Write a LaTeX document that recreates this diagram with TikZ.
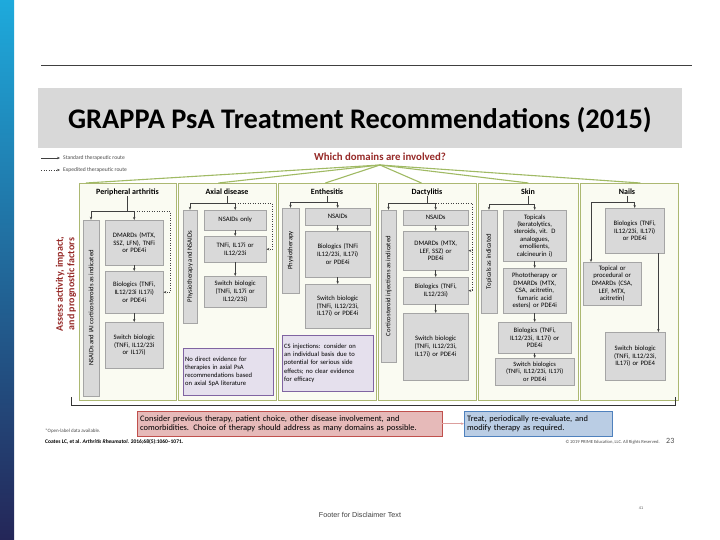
\documentclass[tikz,border=0pt]{standalone}
\usepackage{fontspec}
\setmainfont{Carlito}
\newfontfamily\footfont{Liberation Sans}
\usetikzlibrary{arrows.meta}
\definecolor{ColFill}{RGB}{250,251,242}
\definecolor{ColLine}{RGB}{172,184,114}
\definecolor{BoxGray}{RGB}{217,217,217}
\definecolor{BoxLine}{RGB}{165,165,165}
\definecolor{LilacFill}{RGB}{229,224,237}
\definecolor{LilacLine}{RGB}{128,100,162}
\definecolor{FanGreen}{RGB}{160,186,100}
\definecolor{DarkRed}{RGB}{150,42,40}
\definecolor{PinkFill}{RGB}{230,186,185}
\definecolor{PinkLine}{RGB}{192,80,77}
\definecolor{SkyFill}{RGB}{186,205,228}
\definecolor{SkyLine}{RGB}{79,129,189}
\definecolor{BarTop}{RGB}{30,170,220}
\definecolor{BarMid}{RGB}{22,95,165}
\definecolor{BarBot}{RGB}{36,38,88}
\definecolor{BandGray}{RGB}{216,216,216}
\tikzset{
  col/.style={draw=ColLine,fill=ColFill,line width=0.8pt,anchor=north west,inner sep=0pt},
  hdr/.style={font=\fontsize{8}{9}\selectfont\bfseries,inner sep=0.5pt},
  gb/.style={draw=BoxLine,fill=BoxGray,anchor=north west,align=center,inner sep=1pt,
    font=\fontsize{6.7}{7.7}\selectfont},
  vb/.style={draw=BoxLine,fill=BoxGray,rotate=90,inner sep=1pt,font=\fontsize{6.7}{7.7}\selectfont},
  note/.style={draw=LilacLine,fill=LilacFill,anchor=north west,align=left,inner sep=2pt,
    font=\fontsize{6.6}{8.2}\selectfont},
  arr/.style={-{Stealth[length=3pt,width=2.4pt]},draw=black!75,line width=0.5pt},
  dotarr/.style={arr,dotted},
  fan/.style={draw=FanGreen,line width=1.1pt},
  legend/.style={anchor=west,inner sep=0pt,text=black!70,font=\fontsize{5.6}{6.5}\selectfont},
  side/.style={rotate=90,align=center,text=DarkRed,font=\fontsize{10}{11.4}\selectfont\bfseries},
}

\begin{document}
\begin{tikzpicture}[x=1pt,y=-1pt]
  \useasboundingbox (0,0) rectangle (720,540);
  \fill[white] (0,0) rectangle (720,540);

  % Slide frame and title band.
  \shade[top color=BarTop,middle color=BarMid,bottom color=BarBot] (0,0) rectangle (14,540);
  \draw[black!75,line width=0.9pt] (41,65) -- (692,65);
  \fill[BandGray] (38,88) rectangle (682,148);
  \node[font=\fontsize{28.4}{32}\selectfont\bfseries] (ttl) at (360,120)
    {GRAPPA PsA Treatment Recommendations (2015)};

  % Legend for the two routes.
  \node[legend] (lg1) at (63,158) {Standard therapeutic route};
  \node[legend] (lg2) at (63,170) {Expedited therapeutic route};
  \coordinate (lg1a) at (41,158);
  \coordinate (lg2a) at (41,170);
  \draw[arr] (lg1a) -- ([xshift=-3pt]lg1.west);
  \draw[dotarr] (lg2a) -- ([xshift=-3pt]lg2.west);

  \node[font=\fontsize{10.8}{12}\selectfont\bfseries,text=DarkRed] (wd) at (380,157)
    {Which domains are involved?};
  \coordinate (fan) at (380,165);

  \node[side] (side) at (66,284) {Assess activity, impact,\\and prognostic factors};

  % Peripheral arthritis.
  \node[col,minimum width=97pt,minimum height=217pt] (pa) at (79,183) {};
  \node[hdr] (pa-t) at (127.5,192) {Peripheral arthritis};
  \node[vb,minimum width=176pt,minimum height=16pt] (pa-ns) at (91,308)
    {NSAIDs and IAI corticosteroids as indicated};
  \node[gb,text width=56pt,minimum height=45pt] (pa-dm) at (105,220)
    {DMARDs (MTX,\\SSZ, LFN), TNFi\\or PDE4i};
  \node[gb,text width=56pt,minimum height=42pt] (pa-bi) at (105,271)
    {Biologics (TNFi,\\IL12/23i IL17i)\\or PDE4i};
  \node[gb,text width=56pt,minimum height=46pt] (pa-sw) at (105,322)
    {Switch biologic\\(TNFi, IL12/23i\\or IL17i)};
  \coordinate (pa-b) at (127.5,211);
  \coordinate (pa-d) at (170,211);
  \draw[black!75,line width=0.5pt] (pa-t) -- (pa-b);
  \draw[arr] (pa-b) -| (pa-ns.east);
  \draw[arr] (pa-b) -| (pa-dm.north);
  \draw[dotarr] (pa-dm.north |- pa-b) -- (pa-d) |- (pa-bi.east);
  \draw[arr] (pa-dm) -- (pa-bi);
  \draw[arr] (pa-bi) -- (pa-sw);

  % Axial disease.
  \node[col,minimum width=98pt,minimum height=217pt] (ax) at (178,183) {};
  \node[hdr] (ax-t) at (227,192) {Axial disease};
  \node[vb,minimum width=113pt,minimum height=14pt] (ax-ph) at (190,266.5)
    {Physiotherapy and NSAIDs};
  \node[gb,text width=60pt,minimum height=20pt] (ax-ns) at (204,210) {NSAIDs only};
  \node[gb,text width=60pt,minimum height=26pt] (ax-tn) at (204,236)
    {TNFi, IL17i or\\*IL12/23i};
  \node[gb,text width=60pt,minimum height=31pt] (ax-sw) at (204,276)
    {Switch biologic\\(TNFi, IL17i or\\*IL12/23i)};
  \node[note,text width=86pt,minimum height=47pt] (ax-nt) at (183,348)
    {No direct evidence for\\therapies in axial PsA\\recommendations based\\on axial SpA literature};
  \coordinate (ax-b) at (227,203);
  \coordinate (ax-d) at (272,203);
  \draw[black!75,line width=0.5pt] (ax-t) -- (ax-b);
  \draw[arr] (ax-b) -| (ax-ph.east);
  \draw[arr] (ax-b) -| (ax-ns.north);
  \draw[dotarr] (ax-ns.north |- ax-b) -- (ax-d) |- (ax-tn.east);
  \draw[arr] (ax-ns) -- (ax-tn);
  \draw[arr] (ax-tn) -- (ax-sw);

  % Enthesitis.
  \node[col,minimum width=98pt,minimum height=217pt] (en) at (278,183) {};
  \node[hdr] (en-t) at (327,192) {Enthesitis};
  \node[vb,minimum width=85pt,minimum height=17pt] (en-ph) at (290.5,250.5) {Physiotherapy};
  \node[gb,text width=63pt,minimum height=17pt] (en-ns) at (305,208) {NSAIDs};
  \node[gb,text width=63pt,minimum height=46pt] (en-bi) at (305,231)
    {Biologics (TNFi\\IL12/23i, IL17i)\\or PDE4i};
  \node[gb,text width=63pt,minimum height=44pt] (en-sw) at (305,284)
    {Switch biologic\\(TNFi, IL12/23i,\\IL17i) or PDE4i};
  \node[note,text width=87pt,minimum height=56pt] (en-nt) at (282,335)
    {CS injections: consider on\\an individual basis due to\\potential for serious side\\effects; no clear evidence\\for efficacy};
  \coordinate (en-b) at (327,202);
  \draw[black!75,line width=0.5pt] (en-t) -- (en-b);
  \draw[arr] (en-b) -| (en-ph.east);
  \draw[arr] (en-b) -| (en-ns.north);
  \draw[arr] (en-ns) -- (en-bi);
  \draw[arr] (en-bi) -- (en-sw);

  % Dactylitis.
  \node[col,minimum width=98pt,minimum height=217pt] (da) at (378,183) {};
  \node[hdr] (da-t) at (427,192) {Dactylitis};
  \node[vb,minimum width=152pt,minimum height=15pt] (da-ci) at (388.5,286)
    {Corticosteroid injections as indicated};
  \node[gb,text width=63pt,minimum height=15pt] (da-ns) at (403,210) {NSAIDs};
  \node[gb,text width=63pt,minimum height=39pt] (da-dm) at (403,231)
    {DMARDs (MTX,\\LEF, SSZ) or\\PDE4i};
  \node[gb,text width=63pt,minimum height=27pt] (da-bi) at (403,277)
    {Biologics (TNFi,\\IL12/23i)};
  \node[gb,text width=63pt,minimum height=67pt] (da-sw) at (403,313)
    {Switch biologic\\(TNFi, IL12/23i,\\IL17i) or PDE4i};
  \coordinate (da-b) at (427,203);
  \coordinate (da-d) at (472,203);
  \draw[black!75,line width=0.5pt] (da-t) -- (da-b);
  \draw[arr] (da-b) -| (da-ci.east);
  \draw[arr] (da-b) -| (da-ns.north);
  \draw[black!75,line width=0.5pt,dotted] (da-ns.north |- da-b) -- (da-d) -- (da-d |- da-bi.east);
  \draw[dotarr] (da-d |- da-dm.east) -- (da-dm.east);
  \draw[dotarr] (da-d |- da-bi.east) -- (da-bi.east);
  \draw[arr] (da-ns) -- (da-dm);
  \draw[arr] (da-dm) -- (da-bi);
  \draw[arr] (da-bi) -- (da-sw);

  % Skin.
  \node[col,minimum width=100pt,minimum height=217pt] (sk) at (478,183) {};
  \node[hdr] (sk-t) at (528,192) {Skin};
  \node[vb,minimum width=103pt,minimum height=16pt] (sk-ti) at (489,261.5)
    {Topicals as indicated};
  \node[gb,text width=61pt,minimum height=51pt,font=\fontsize{6.7}{7.4}\selectfont] (sk-tp) at (503,210)
    {Topicals\\(keratolytics,\\steroids, vit. D\\analogues,\\emollients,\\calcineurin i)};
  \node[gb,text width=61pt,minimum height=45pt,font=\fontsize{6.7}{7.5}\selectfont] (sk-ph) at (503,268)
    {Phototherapy or\\DMARDs (MTX,\\CSA, acitretin,\\fumaric acid\\esters) or PDE4i};
  \node[gb,text width=71pt,minimum height=31pt] (sk-bi) at (498,322)
    {Biologics (TNFi,\\IL12/23i, IL17i) or\\PDE4i};
  \node[gb,text width=77pt,minimum height=27pt,font=\fontsize{6.5}{7.3}\selectfont] (sk-sw) at (495,358)
    {Switch biologics\\(TNFi, IL12/23i, IL17i)\\or PDE4i};
  \coordinate (sk-b) at (528,204);
  \draw[black!75,line width=0.5pt] (sk-t) -- (sk-b);
  \draw[arr] (sk-b) -| (sk-ti.east);
  \draw[arr] (sk-b) -| (sk-tp.north);
  \draw[arr] (sk-tp) -- (sk-ph);
  \draw[arr] (sk-ph) -- (sk-bi);
  \draw[arr] (sk-bi) -- (sk-sw);

  % Nails.
  \node[col,minimum width=98pt,minimum height=217pt] (na) at (580,183) {};
  \node[hdr] (na-t) at (627,192) {Nails};
  \node[gb,text width=57pt,minimum height=45pt] (na-bi) at (605,208)
    {Biologics (TNFi,\\IL12/23i, IL17i)\\or PDE4i};
  \node[gb,text width=56pt,minimum height=43pt] (na-tp) at (583,262)
    {Topical or\\procedural or\\DMARDs (CSA,\\LEF, MTX,\\acitretin)};
  \node[gb,text width=58pt,minimum height=48pt] (na-sw) at (605,332)
    {Switch biologic\\(TNFi, IL12/23i,\\IL17i) or PDE4};
  \coordinate (na-b) at (627,202);
  \draw[black!75,line width=0.5pt] (na-t) -- (na-b);
  \draw[arr] (na-b) -| (na-bi.north);
  \draw[arr] (na-b) -| ([xshift=8pt]na-tp.north west);
  \draw[arr] ([xshift=-6pt]na-bi.south east) -- ([xshift=-6pt]na-bi.south east |- na-sw.north);

  % Fan from the question to every domain.
  \foreach \c/\s in {pa/-42,ax/-9,en/-2,da/-6,sk/0,na/11}
    \draw[fan] (fan) -- ([xshift=\s pt]\c.north);

  % Bracket under the domains.
  \coordinate (br-l) at (71,397);
  \coordinate (br-r) at (675,397);
  \draw[black!80,line width=1pt] (br-l) -- ++(0,8) -| (br-r);

  % Bottom messages.
  \node[draw=PinkLine,fill=PinkFill,anchor=north west,align=left,inner sep=3pt,
    text width=299pt,minimum height=25pt,font=\fontsize{8.4}{9.6}\selectfont] (pk) at (137,411)
    {Consider previous therapy, patient choice, other disease involvement, and\\
     comorbidities. Choice of therapy should address as many domains as possible.};
  \node[draw=SkyLine,fill=SkyFill,anchor=north west,align=left,inner sep=3pt,
    text width=142pt,minimum height=25pt,font=\fontsize{8.4}{9.6}\selectfont] (bl) at (464,411)
    {Treat, periodically re-evaluate, and\\modify therapy as required.};
  \draw[-{Stealth[length=3pt,width=2.4pt]},draw=PinkLine!55,line width=0.9pt] (pk) -- (bl);

  % Sources and slide footer.
  \node[anchor=west,inner sep=0pt,text=black!70,font=\fontsize{5}{6}\selectfont] (fn1) at (45,431)
    {*Open-label data available.};
  \node[anchor=west,inner sep=0pt,font=\fontsize{5.5}{6.5}\selectfont\bfseries] (fn2) at (45,442)
    {Coates LC, et al. \textit{Arthritis Rheumatol}. 2016;68(5):1060--1071.};
  \node[anchor=east,inner sep=0pt,text=black!70,font=\fontsize{4.6}{5.5}\selectfont] (cr) at (660,442)
    {\textcopyright{} 2019 PRIME Education, LLC. All Rights Reserved.};
  \node[anchor=west,inner sep=0pt,text=black!70,font=\fontsize{8}{9}\selectfont] (pg) at (666,441) {23};
  \node[text=black!75,font=\footfont\fontsize{7.2}{8}\selectfont] (ft) at (360,515)
    {Footer for Disclaimer Text};
  \node[text=black!60,font=\footfont\fontsize{4}{5}\selectfont] (pn) at (641,508) {41};
\end{tikzpicture}
\end{document}
